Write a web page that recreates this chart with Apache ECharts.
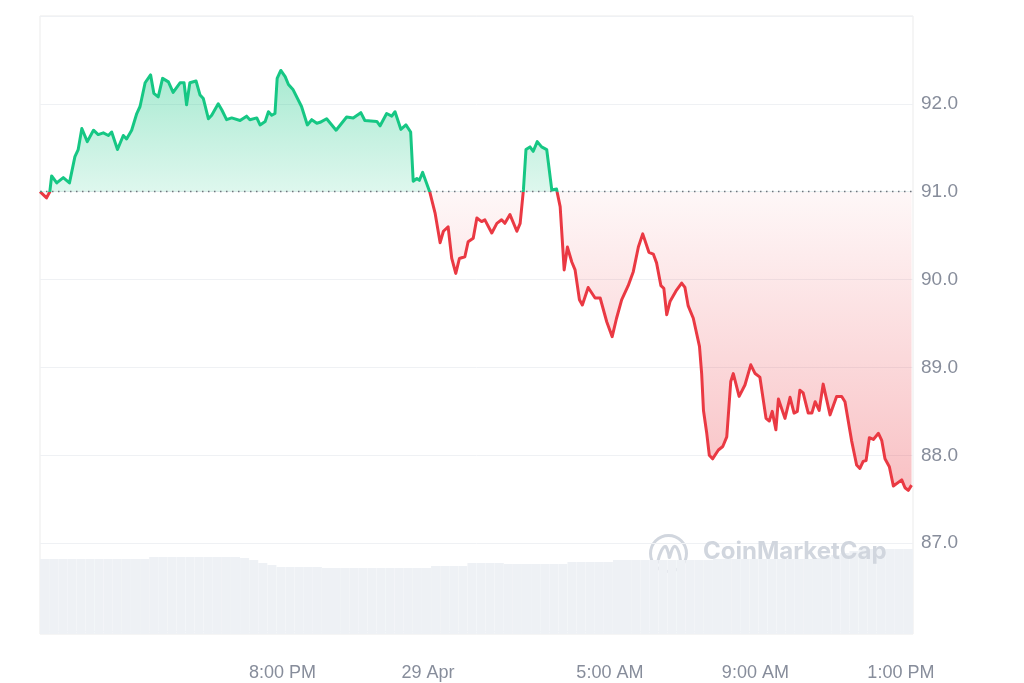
<!DOCTYPE html>
<html><head><meta charset="utf-8">
<script src="https://cdn.jsdelivr.net/npm/echarts@6/dist/echarts.min.js"></script>
<style>html,body{margin:0;padding:0;background:#fff}#c{width:1024px;height:683px}</style>
</head><body><div id="c"></div>
<script>
// hours since the start of the 24h window (28 Apr ~1:20 PM)
const hours = [0,0.18,0.27,0.32,0.46,0.64,0.81,0.96,1.05,1.15,1.30,1.47,1.60,1.74,1.88,1.97,2.13,2.29,2.38,2.52,2.66,2.75,2.89,3.04,3.13,3.25,3.37,3.53,3.66,3.85,3.96,4.03,4.12,4.29,4.40,4.49,4.63,4.72,4.90,5.00,5.13,5.27,5.50,5.68,5.77,5.96,6.05,6.19,6.28,6.37,6.46,6.52,6.62,6.74,6.83,6.96,7.19,7.35,7.47,7.61,7.70,7.88,8.14,8.43,8.61,8.82,8.93,9.26,9.35,9.53,9.67,9.76,9.92,10.06,10.19,10.26,10.36,10.43,10.52,10.72,10.86,11.00,11.09,11.22,11.32,11.43,11.53,11.68,11.77,11.91,12.01,12.14,12.23,12.42,12.56,12.69,12.78,12.92,13.11,13.20,13.29,13.36,13.47,13.56,13.67,13.79,13.93,14.07,14.20,14.30,14.41,14.50,14.62,14.71,14.83,14.91,15.07,15.26,15.40,15.58,15.73,15.85,15.99,16.17,16.31,16.45,16.57,16.74,16.86,16.95,17.07,17.15,17.23,17.32,17.50,17.64,17.73,17.82,17.96,18.13,18.19,18.24,18.33,18.40,18.49,18.65,18.77,18.88,18.99,19.06,19.22,19.38,19.54,19.66,19.79,19.96,20.05,20.13,20.23,20.30,20.48,20.62,20.73,20.82,20.89,20.98,21.12,21.22,21.31,21.42,21.53,21.72,21.90,22.04,22.13,22.31,22.45,22.54,22.63,22.71,22.80,22.91,23.05,23.14,23.23,23.35,23.46,23.69,23.78,23.87,23.96];
const prices = [91.00,90.93,91.00,91.18,91.10,91.16,91.10,91.40,91.48,91.72,91.57,91.70,91.65,91.67,91.64,91.68,91.48,91.64,91.60,91.70,91.89,91.97,92.24,92.33,92.12,92.08,92.29,92.25,92.13,92.24,92.24,91.99,92.24,92.26,92.10,92.06,91.83,91.87,92.00,91.93,91.82,91.84,91.81,91.86,91.82,91.84,91.76,91.80,91.91,91.87,91.89,92.29,92.38,92.31,92.22,92.16,91.97,91.76,91.82,91.78,91.79,91.83,91.70,91.85,91.84,91.90,91.81,91.80,91.75,91.89,91.86,91.91,91.71,91.76,91.68,91.12,91.15,91.13,91.22,90.99,90.76,90.42,90.55,90.60,90.24,90.07,90.24,90.26,90.43,90.47,90.70,90.66,90.68,90.53,90.64,90.68,90.64,90.74,90.55,90.64,91.02,91.48,91.51,91.46,91.57,91.51,91.48,91.02,91.03,90.83,90.11,90.37,90.20,90.11,89.77,89.71,89.91,89.79,89.79,89.52,89.35,89.56,89.77,89.93,90.09,90.37,90.52,90.31,90.29,90.19,89.93,89.90,89.60,89.75,89.88,89.96,89.91,89.70,89.56,89.24,88.93,88.51,88.25,88.00,87.96,88.06,88.10,88.21,88.84,88.93,88.67,88.80,89.03,88.93,88.89,88.42,88.39,88.50,88.29,88.64,88.42,88.66,88.48,88.50,88.74,88.71,88.48,88.48,88.61,88.51,88.81,88.46,88.67,88.67,88.61,88.17,87.89,87.85,87.93,87.94,88.20,88.18,88.25,88.17,87.96,87.87,87.65,87.72,87.63,87.60,87.66];
const baseline = 91.0;
const priceMin = 86, priceMax = 93;
const xLabelHours = [6.667, 10.667, 15.667, 19.667, 23.667];
const xLabelTexts = ['8:00 PM', '29 Apr', '5:00 AM', '9:00 AM', '1:00 PM'];
// 15-minute volume bins (arbitrary units)
const volumes = [7.5,7.5,7.5,7.5,7.5,7.5,7.5,7.5,7.5,7.5,7.5,7.5,
7.7,7.7,7.7,7.7,7.7,7.7,7.7,7.7,7.7,7.7,7.6,7.4,7.1,6.9,
6.7,6.7,6.7,6.7,6.7,6.6,6.6,6.6,6.6,6.6,6.6,6.6,6.6,6.6,6.6,6.6,6.6,
6.8,6.8,6.8,6.8,7.1,7.1,7.1,7.1,7.0,7.0,7.0,7.0,7.0,7.0,7.0,
7.2,7.2,7.2,7.2,7.2,7.4,7.4,7.4,7.4,7.4,7.4,7.4,7.4,7.4,7.4,7.4,
7.5,7.5,7.5,7.5,7.5,7.5,7.5,7.5,7.5,7.5,7.5,
7.6,7.7,7.9,8.1,8.3,8.5,8.5,8.5,8.5,8.5,8.5];
const volStep = 0.25;

const GREEN = '#16c784', RED = '#ea3943';
const gridTop = 16, gridH = 615;
const fb = (priceMax - baseline) / (priceMax - priceMin);
const lineGrad = {type:'linear', x:0, y:gridTop, x2:0, y2:gridTop+gridH, global:true,
  colorStops:[{offset:0,color:GREEN},{offset:fb,color:GREEN},{offset:fb,color:RED},{offset:1,color:RED}]};
const areaGrad = {type:'linear', x:0, y:gridTop, x2:0, y2:gridTop+gridH, global:true,
  colorStops:[{offset:0,color:'rgba(22,199,132,0.48)'},{offset:fb,color:'rgba(22,199,132,0.14)'},
              {offset:fb,color:'rgba(234,57,67,0.04)'},{offset:0.8,color:'rgba(234,57,67,0.33)'},{offset:1,color:'rgba(234,57,67,0.42)'}]};

const labelColor = '#878d9b';
const font = 'Liberation Sans, Arial, sans-serif';
const chart = echarts.init(document.getElementById('c'), null, {renderer:'canvas'});
chart.setOption({
  animation:false,
  backgroundColor:'#fff',
  grid:[
    {left:40, right:111, top:gridTop, height:gridH},
    {left:40, right:111, top:gridTop, bottom:49, show:true, borderColor:'#ebebeb', borderWidth:1, backgroundColor:'transparent'}
  ],
  xAxis:[
    {gridIndex:0, type:'value', min:0, max:24, show:false},
    {gridIndex:1, type:'value', min:0, max:24, axisLine:{show:false}, axisTick:{show:false}, splitLine:{show:false},
     axisLabel:{customValues:xLabelHours, margin:30, color:labelColor, fontSize:18, fontFamily:font,
       formatter:function(v){let b=0,d=1e9;xLabelHours.forEach((h,i)=>{if(Math.abs(h-v)<d){d=Math.abs(h-v);b=i;}});return xLabelTexts[b];}}}
  ],
  yAxis:[
    {gridIndex:0, type:'value', position:'right', min:priceMin, max:priceMax, interval:1,
     axisLine:{show:false}, axisTick:{show:false},
     splitLine:{lineStyle:{color:'#eff1f4', width:1}},
     axisLabel:{margin:8, color:labelColor, fontSize:19, fontFamily:font,
       formatter:function(v){return (v>priceMin && v<priceMax)? v.toFixed(1):'';}}},
    {gridIndex:1, type:'value', min:0, max:61.8, show:false}
  ],
  series:[
    {type:'bar', xAxisIndex:1, yAxisIndex:1, silent:true, barWidth:9,
     itemStyle:{color:'#eef1f5'},
     data:volumes.map((v,i)=>[i*volStep+volStep/2, v])},
    {type:'line', xAxisIndex:0, yAxisIndex:0, symbol:'none', silent:true, z:3,
     data:hours.map((h,i)=>[h,prices[i]]),
     lineStyle:{width:3, color:lineGrad, join:'round'},
     areaStyle:{origin:baseline, color:areaGrad, opacity:1},
     markLine:{silent:true, symbol:'none', z:10, label:{show:false}, emphasis:{disabled:true},
       lineStyle:{type:[1.5,4.5], color:'#6f747d', width:1.3, opacity:1},
       data:[{yAxis:baseline}]}
    }
  ],
  graphic:[
    {type:'group', left:648, top:533, silent:true, z:100, children:[
      {type:'circle', shape:{cx:20, cy:20, r:18}, style:{fill:'none', stroke:'#d1d6de', lineWidth:3}},
      {type:'polyline', shape:{points:[[9,29],[13,17],[17,13],[20,20],[21,24],[24,15],[27,13],[30,18],[32,27]], smooth:0.4},
       style:{fill:'none', stroke:'#d1d6de', lineWidth:3, lineCap:'round'}}
    ]},
    {type:'text', left:703, top:540, silent:true, z:100, style:{text:'CoinMarketCap', fill:'#d1d6de', font:'bold 24px Inter, "Noto Sans", sans-serif'}}
  ]
});
</script></body></html>
